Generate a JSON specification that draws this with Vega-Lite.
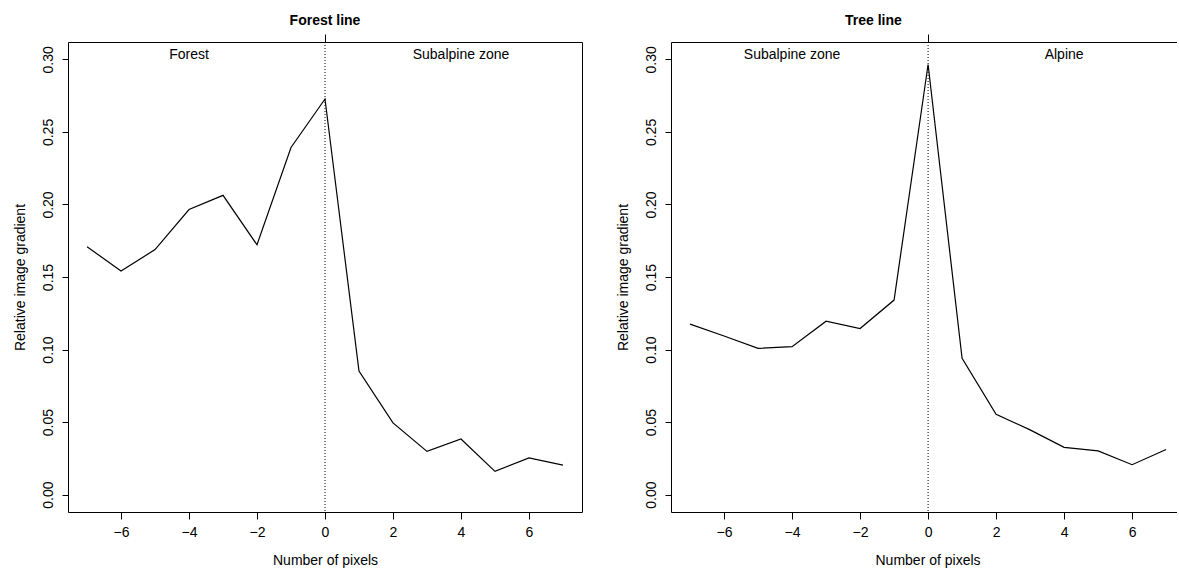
{
  "$schema": "https://vega.github.io/schema/vega-lite/v6.json",
  "padding": {"left": 12, "top": 13, "right": 0, "bottom": 0},
  "spacing": 33,
  "background": "white",
  "config": {
    "font": "Liberation Sans",
    "view": {"stroke": null},
    "axis": {
      "grid": false,
      "domainColor": "#000000",
      "domainWidth": 1,
      "tickColor": "#000000",
      "tickWidth": 1,
      "labelColor": "#000000",
      "labelFontSize": 14,
      "labelFont": "Liberation Sans",
      "titleColor": "#000000",
      "titleFontSize": 14,
      "titleFontWeight": "normal",
      "titleFont": "Liberation Sans",
      "labelOverlap": false
    },
    "title": {"font": "Liberation Sans", "fontSize": 14, "fontWeight": "bold", "color": "#000000"}
  },
  "datasets": {
    "forest": [
      {"px": -7, "gradient": 0.1709},
      {"px": -6, "gradient": 0.1541},
      {"px": -5, "gradient": 0.1689},
      {"px": -4, "gradient": 0.1965},
      {"px": -3, "gradient": 0.2063},
      {"px": -2, "gradient": 0.1722},
      {"px": -1, "gradient": 0.2393},
      {"px": 0, "gradient": 0.2727},
      {"px": 1, "gradient": 0.0852},
      {"px": 2, "gradient": 0.0494},
      {"px": 3, "gradient": 0.0298},
      {"px": 4, "gradient": 0.0383},
      {"px": 5, "gradient": 0.0160},
      {"px": 6, "gradient": 0.0253},
      {"px": 7, "gradient": 0.0203}
    ],
    "tree": [
      {"px": -7, "gradient": 0.1175},
      {"px": -6, "gradient": 0.1093},
      {"px": -5, "gradient": 0.1008},
      {"px": -4, "gradient": 0.1020},
      {"px": -3, "gradient": 0.1195},
      {"px": -2, "gradient": 0.1145},
      {"px": -1, "gradient": 0.1341},
      {"px": 0, "gradient": 0.2965},
      {"px": 1, "gradient": 0.0940},
      {"px": 2, "gradient": 0.0554},
      {"px": 3, "gradient": 0.0446},
      {"px": 4, "gradient": 0.0326},
      {"px": 5, "gradient": 0.0301},
      {"px": 6, "gradient": 0.0206},
      {"px": 7, "gradient": 0.0311}
    ],
    "forestZones": [
      {"px": -4, "zone": "Forest"},
      {"px": 4, "zone": "Subalpine zone"}
    ],
    "treeZones": [
      {"px": -4, "zone": "Subalpine zone"},
      {"px": 4, "zone": "Alpine"}
    ],
    "boundary": [{"px": 0}]
  },
  "hconcat": [
    {
      "width": 514,
      "height": 470,
      "view": {"stroke": "#000000", "strokeWidth": 1},
      "title": {"text": "Forest line", "offset": 6},
      "resolve": {"axis": {"x": "independent"}},
      "layer": [
        {
          "data": {"name": "forest"},
          "mark": {"type": "line", "color": "#000000", "strokeWidth": 1.2},
          "encoding": {
            "x": {"field": "px", "type": "quantitative", "scale": {"domain": [-7.56, 7.56], "nice": false, "zero": false},
              "axis": {"orient": "bottom", "values": [-6, -4, -2, 0, 2, 4, 6], "format": "d", "domain": false, "tickSize": 7, "labelPadding": 6, "title": "Number of pixels", "titlePadding": 14}},
            "y": {"field": "gradient", "type": "quantitative", "scale": {"domain": [-0.012, 0.312], "nice": false, "zero": false},
              "axis": {"values": [0, 0.05, 0.1, 0.15, 0.2, 0.25, 0.3], "format": ".2f", "domain": false, "tickSize": 6, "labelPadding": 7, "labelAngle": 270, "labelAlign": "center", "labelBaseline": "bottom", "title": "Relative image gradient", "titlePadding": 14}}
          }
        },
        {
          "data": {"name": "boundary"},
          "mark": {"type": "rule", "color": "#000000", "strokeWidth": 1, "strokeDash": [1, 2]},
          "encoding": {
            "x": {"field": "px", "type": "quantitative",
              "axis": {"orient": "top", "values": [0], "labels": false, "domain": false, "tickSize": 8, "title": null}}
          }
        },
        {
          "data": {"name": "forestZones"},
          "mark": {"type": "text", "fontSize": 14, "baseline": "middle", "align": "center", "color": "#000000"},
          "encoding": {
            "x": {"field": "px", "type": "quantitative", "axis": null},
            "y": {"datum": 0.303, "type": "quantitative"},
            "text": {"field": "zone"}
          }
        }
      ]
    },
    {
      "width": 506,
      "height": 470,
      "view": {"stroke": null},
      "title": {"text": "Tree line", "offset": 6, "anchor": "start", "dx": 229},
      "resolve": {"axis": {"x": "independent"}},
      "layer": [
        {
          "data": {"name": "tree"},
          "mark": {"type": "line", "color": "#000000", "strokeWidth": 1.2},
          "encoding": {
            "x": {"field": "px", "type": "quantitative", "scale": {"domain": [-7.56, 7.32], "nice": false, "zero": false},
              "axis": {"orient": "bottom", "values": [-6, -4, -2, 0, 2, 4, 6], "format": "d", "domain": true, "tickSize": 7, "labelPadding": 6, "title": "Number of pixels", "titlePadding": 14, "titleAnchor": "start", "titleX": 204}},
            "y": {"field": "gradient", "type": "quantitative", "scale": {"domain": [-0.012, 0.312], "nice": false, "zero": false},
              "axis": {"values": [0, 0.05, 0.1, 0.15, 0.2, 0.25, 0.3], "format": ".2f", "domain": true, "tickSize": 6, "labelPadding": 7, "labelAngle": 270, "labelAlign": "center", "labelBaseline": "bottom", "title": "Relative image gradient", "titlePadding": 14}}
          }
        },
        {
          "data": {"name": "boundary"},
          "mark": {"type": "rule", "color": "#000000", "strokeWidth": 1, "strokeDash": [1, 2]},
          "encoding": {
            "x": {"field": "px", "type": "quantitative",
              "axis": {"orient": "top", "values": [0], "labels": false, "domain": true, "tickSize": 8, "title": null}}
          }
        },
        {
          "data": {"name": "treeZones"},
          "mark": {"type": "text", "fontSize": 14, "baseline": "middle", "align": "center", "color": "#000000"},
          "encoding": {
            "x": {"field": "px", "type": "quantitative", "axis": null},
            "y": {"datum": 0.303, "type": "quantitative"},
            "text": {"field": "zone"}
          }
        }
      ]
    }
  ]
}
